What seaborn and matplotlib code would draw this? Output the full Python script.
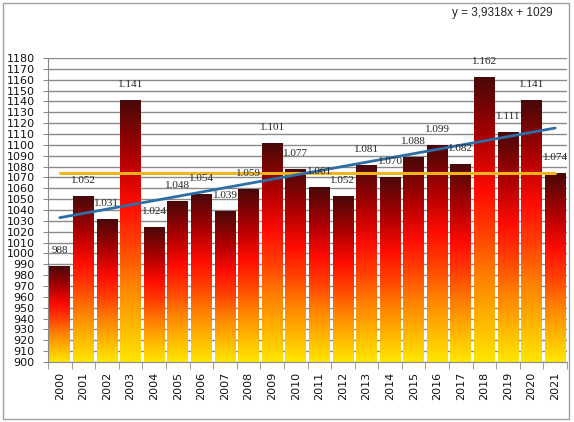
import numpy as np
import pandas as pd
import matplotlib.pyplot as plt
import seaborn as sns
from matplotlib.colors import LinearSegmentedColormap
from matplotlib.patches import Rectangle

# Data
years = [str(y) for y in range(2000, 2022)]
values = [988, 1052, 1031, 1141, 1024, 1048, 1054, 1039, 1059, 1101, 1077,
          1061, 1052, 1081, 1070, 1088, 1099, 1082, 1162, 1111, 1141, 1074]
trend_slope = 3.9318
trend_intercept = 1029
equation_text = 'y = 3,9318x + 1029'

df = pd.DataFrame({'year': years, 'value': values})

sns.set_style('white')
plt.rcParams['font.family'] = ['DejaVu Sans']

fig = plt.figure(figsize=(5.74, 4.22), dpi=100)
ax = fig.add_axes([48 / 574, 1 - 362 / 422, (567 - 48) / 574, (362 - 58) / 422])

sns.barplot(data=df, x='year', y='value', ax=ax, width=0.88, color='white')

# Per-bar vertical gradient: yellow at the bottom, dark maroon at the top
cmap = LinearSegmentedColormap.from_list('fire', [
    (0.0, '#ffe600'),
    (0.15, '#ffb400'),
    (0.3, '#ff8000'),
    (0.45, '#ff4000'),
    (0.6, '#ff0c00'),
    (0.78, '#b00000'),
    (1.0, '#480808'),
])
grad = np.linspace(0, 1, 256).reshape(-1, 1)
ymin, ymax = 900, 1180
for p in ax.patches:
    x0 = p.get_x()
    w = p.get_width()
    h = p.get_height()
    ax.imshow(grad, extent=[x0, x0 + w, ymin, h], origin='lower', aspect='auto',
              cmap=cmap, zorder=2, interpolation='bilinear')
    p.set_visible(False)

# Data labels
for i, v in enumerate(values):
    txt = f'{v:,}'.replace(',', '.')
    ax.annotate(txt, (i, v), xytext=(0, 11.5), textcoords='offset points',
                ha='center', va='center', fontsize=8,
                family=['Liberation Serif'], zorder=5)

# Mean line and linear trend
xs = np.arange(len(values))
mean_val = np.mean(values)
ax.plot([xs[0], xs[-1]], [mean_val, mean_val], color='#f2b41c', lw=2.2, zorder=3)
trend = trend_slope * (xs + 1) + trend_intercept
ax.plot(xs, trend, color='#2e6ea6', lw=2, zorder=4)

ax.set_xlim(-0.5, len(values) - 0.5)
ax.set_ylim(ymin, ymax)
ax.set_yticks(np.arange(900, 1181, 10))
ax.yaxis.grid(True, color='#8a8a8a', lw=1)
ax.set_axisbelow(True)
ax.set_xlabel('')
ax.set_ylabel('')

ax.tick_params(axis='y', labelsize=8, length=3.5, color='#8a8a8a', left=True, pad=6,
               labelcolor='#111111')
ax.tick_params(axis='x', which='major', labelsize=8, rotation=90, length=0, pad=7,
               labelcolor='#111111')
ax.set_xticks(np.arange(-0.5, len(values), 1), minor=True)
ax.tick_params(axis='x', which='minor', length=5, color='#8a8a8a', bottom=True)

for s in ['top', 'right']:
    ax.spines[s].set_visible(False)
for s in ['left', 'bottom']:
    ax.spines[s].set_color('#8a8a8a')

# Chart border and equation
fig.add_artist(Rectangle((3 / 574, 3 / 422), (569 - 3) / 574, (419 - 3) / 422,
                         transform=fig.transFigure, fill=False,
                         ec='#a0a0a0', lw=1))
fig.text(553 / 574, 1 - 13 / 422, equation_text, ha='right', va='center',
         fontsize=8.5, family=['Liberation Sans'])

fig.savefig('out.png', dpi=100)
